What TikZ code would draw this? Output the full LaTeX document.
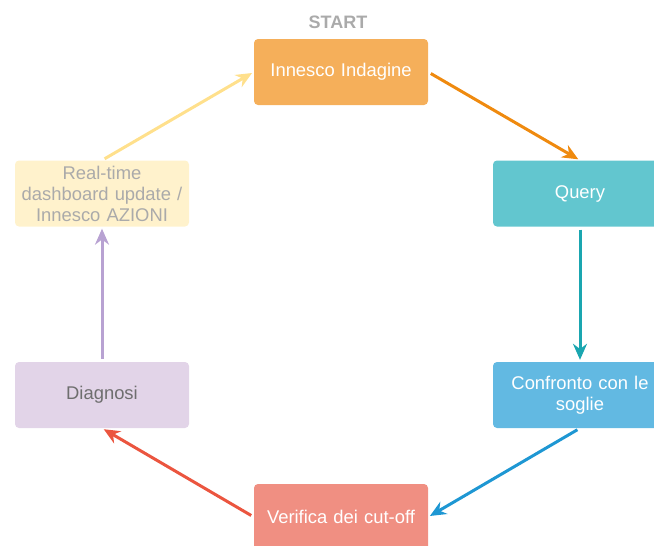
\documentclass[tikz,border=0pt]{standalone}
\usepackage{fontspec}
\setmainfont{Liberation Sans}
\usetikzlibrary{arrows.meta}
\definecolor{cOrange}{HTML}{F5AF5A}
\definecolor{aOrange}{HTML}{EF8A0F}
\definecolor{cTeal}{HTML}{62C6CF}
\definecolor{aTeal}{HTML}{1AA6B0}
\definecolor{cBlue}{HTML}{62B9E2}
\definecolor{aBlue}{HTML}{1E97D3}
\definecolor{cRed}{HTML}{F08F82}
\definecolor{aRed}{HTML}{EB553F}
\definecolor{cLav}{HTML}{E2D4E8}
\definecolor{aLav}{HTML}{B8A2D2}
\definecolor{cYel}{HTML}{FFF2CC}
\definecolor{aYel}{HTML}{FFE08C}
\definecolor{tGray}{HTML}{AAAAAA}
\definecolor{tDark}{HTML}{6E6E6E}
\tikzset{
  box/.style={rounded corners=4pt, minimum width=174pt, minimum height=66pt,
    inner sep=0pt, align=center, text width=170pt,
    font=\fontsize{18.4}{21}\selectfont},
  conn/.style={line width=3pt, -{Stealth[length=16pt,width=14pt]}, shorten <=3pt, shorten >=2pt}
}
\begin{document}
\begin{tikzpicture}[x=1pt,y=-1pt]
\useasboundingbox (0,0) rectangle (654,546);
\clip (0,0) rectangle (654,546);
\node[box, fill=cOrange, text=white] (n1) at (341,72) {Innesco Indagine};
\node[box, fill=cTeal, text=white] (n2) at (580,193.5) {Query};
\node[box, fill=cBlue, text=white] (n3) at (580,395) {Confronto con le\\soglie};
\node[box, fill=cRed, text=white] (n4) at (341,517) {Verifica dei cut-off};
\node[box, fill=cLav, text=tDark] (n5) at (102,395) {Diagnosi};
\node[box, fill=cYel, text=tGray] (n6) at (102,193.5) {Real-time\\dashboard update /\\Innesco AZIONI};
\node[font=\bfseries\fontsize{18}{20}\selectfont, text=tGray] (st) at (338,22.5) {START};
\draw[conn, aOrange] (n1.east) -- (n2.north);
\draw[conn, aTeal] (n2.south) -- (n3.north);
\draw[conn, aBlue] (n3.south) -- (n4.east);
\draw[conn, aRed] (n4.west) -- (n5.south);
\draw[conn, aLav] (n5.north) -- (n6.south);
\draw[conn, aYel] (n6.north) -- (n1.west);
\end{tikzpicture}
\end{document}
